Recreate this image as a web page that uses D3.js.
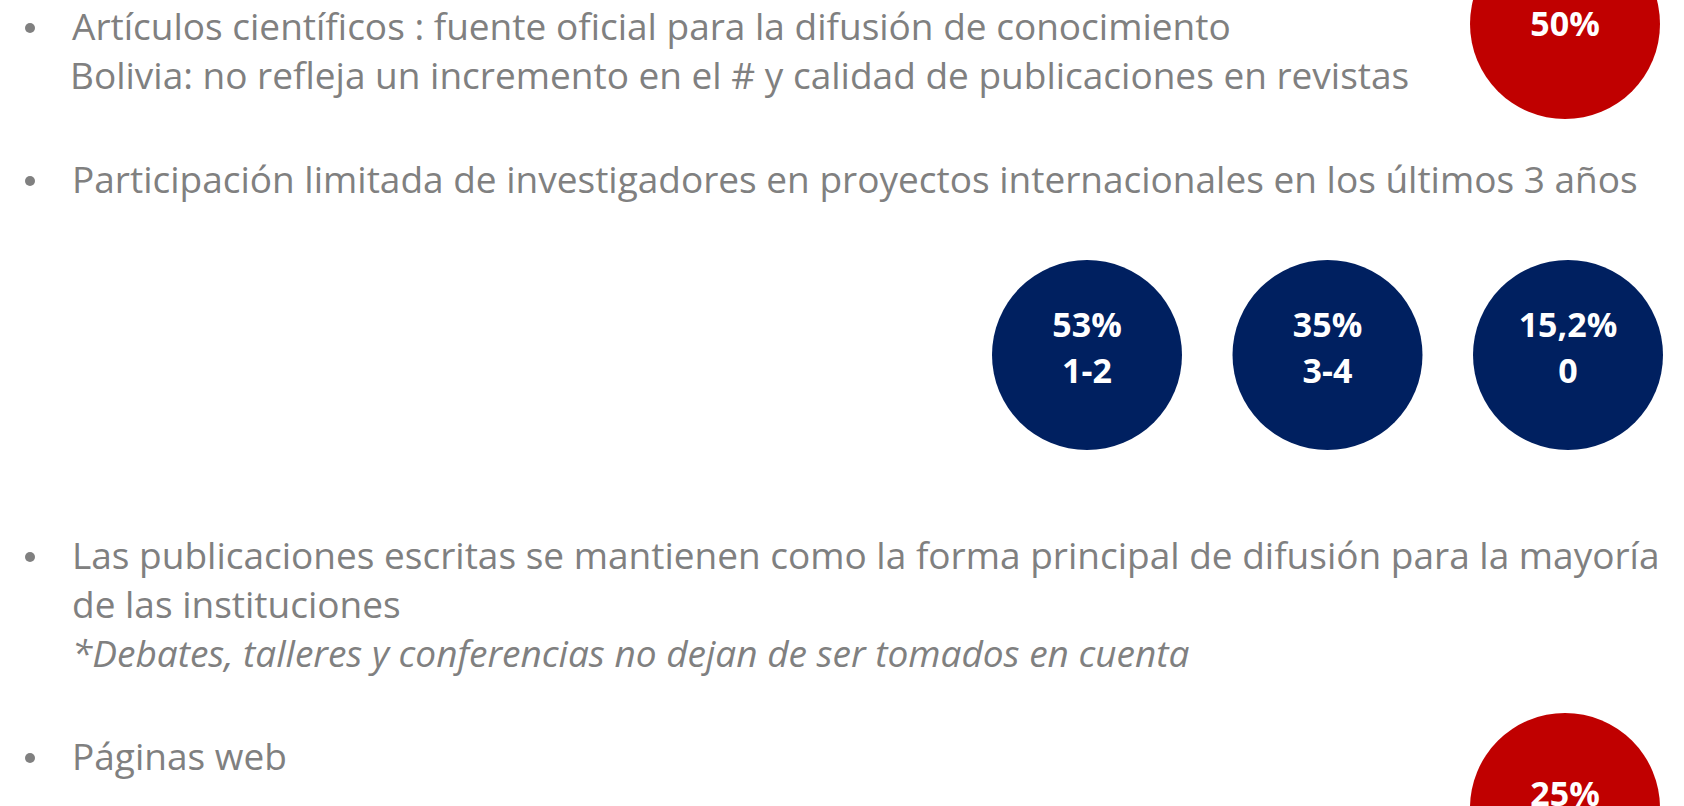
<!DOCTYPE html>
<html>
<head>
<meta charset="utf-8">
<script src="https://cdn.jsdelivr.net/npm/d3@7"></script>
<style>
  body { margin: 0; background: #fff; }
</style>
</head>
<body>
<script>

// data
var bulletLines = [
  ["Artículos científicos : fuente oficial para la difusión de conocimiento",
   "Bolivia: no refleja un incremento en el # y calidad de publicaciones en revistas"],
  ["Participación limitada de investigadores en proyectos internacionales en los últimos 3 años"],
  ["Las publicaciones escritas se mantienen como la forma principal de difusión para la mayoría",
   "de las instituciones",
   "*Debates, talleres y conferencias no dejan de ser tomados en cuenta"],
  ["Páginas web"]
];
var bulletTop = [40, 193, 569, 770];   // baseline of first line of each bullet

var projShare = ["53%", "35%", "15,2%"];
var projCount = ["1-2", "3-4", "0"];

var redShare = ["50%", "25%"];
var redKey = ["articulos", "paginas"];

// layout
var width = 1684,
    height = 806,
    lineGap = 49,
    radius = 95,
    grey = "#808080",
    navy = "#002060",
    red = "#C00000",
    font = "'Open Sans', 'Noto Sans', sans-serif";

var svg = d3.select("body").append("svg")
    .attr("width", width)
    .attr("height", height);

// text bullets
bulletLines.forEach(function (lines, i) {
  var g = svg.append("g");
  g.append("circle")
    .attr("cx", 30)
    .attr("cy", bulletTop[i] - 12)
    .attr("r", 5)
    .attr("fill", grey);
  g.selectAll("text")
    .data(lines)
    .enter().append("text")
    .attr("x", function (d, j) { return (i == 0 && j == 1) ? 70 : 72; })
    .attr("y", function (d, j) { return bulletTop[i] + j * lineGap; })
    .style("font-family", font)
    .style("font-size", "37px")
    .style("font-style", function (d) { return d.charAt(0) == "*" ? "italic" : "normal"; })
    .style("fill", grey)
    .text(function (d) { return d; });
});

// blue circles: international projects
var xProj = d3.scalePoint()
    .domain(projCount)
    .range([1087, 1568]);

var proj = svg.selectAll("g.proj")
    .data(projCount)
    .enter().append("g")
    .attr("class", "proj")
    .attr("transform", function (d) { return "translate(" + xProj(d) + ",355)"; });

proj.append("circle")
    .attr("r", radius)
    .attr("fill", navy);

proj.append("text")
    .attr("y", -18)
    .attr("text-anchor", "middle")
    .style("font-family", font)
    .style("font-weight", "bold")
    .style("font-size", "34px")
    .style("fill", "#fff")
    .text(function (d, i) { return projShare[i]; });

proj.append("text")
    .attr("y", 28)
    .attr("text-anchor", "middle")
    .style("font-family", font)
    .style("font-weight", "bold")
    .style("font-size", "34px")
    .style("fill", "#fff")
    .text(function (d) { return d; });

// red circles
var yRed = d3.scalePoint()
    .domain(redKey)
    .range([24, 808]);

var reds = svg.selectAll("g.red")
    .data(redKey)
    .enter().append("g")
    .attr("class", "red")
    .attr("transform", function (d) { return "translate(1565," + yRed(d) + ")"; });

reds.append("circle")
    .attr("r", radius)
    .attr("fill", red);

reds.append("text")
    .attr("y", function (d, i) { return i == 0 ? 12 : -2; })
    .attr("text-anchor", "middle")
    .style("font-family", font)
    .style("font-weight", "bold")
    .style("font-size", "34px")
    .style("fill", "#fff")
    .text(function (d, i) { return redShare[i]; });

</script>
</body>
</html>
